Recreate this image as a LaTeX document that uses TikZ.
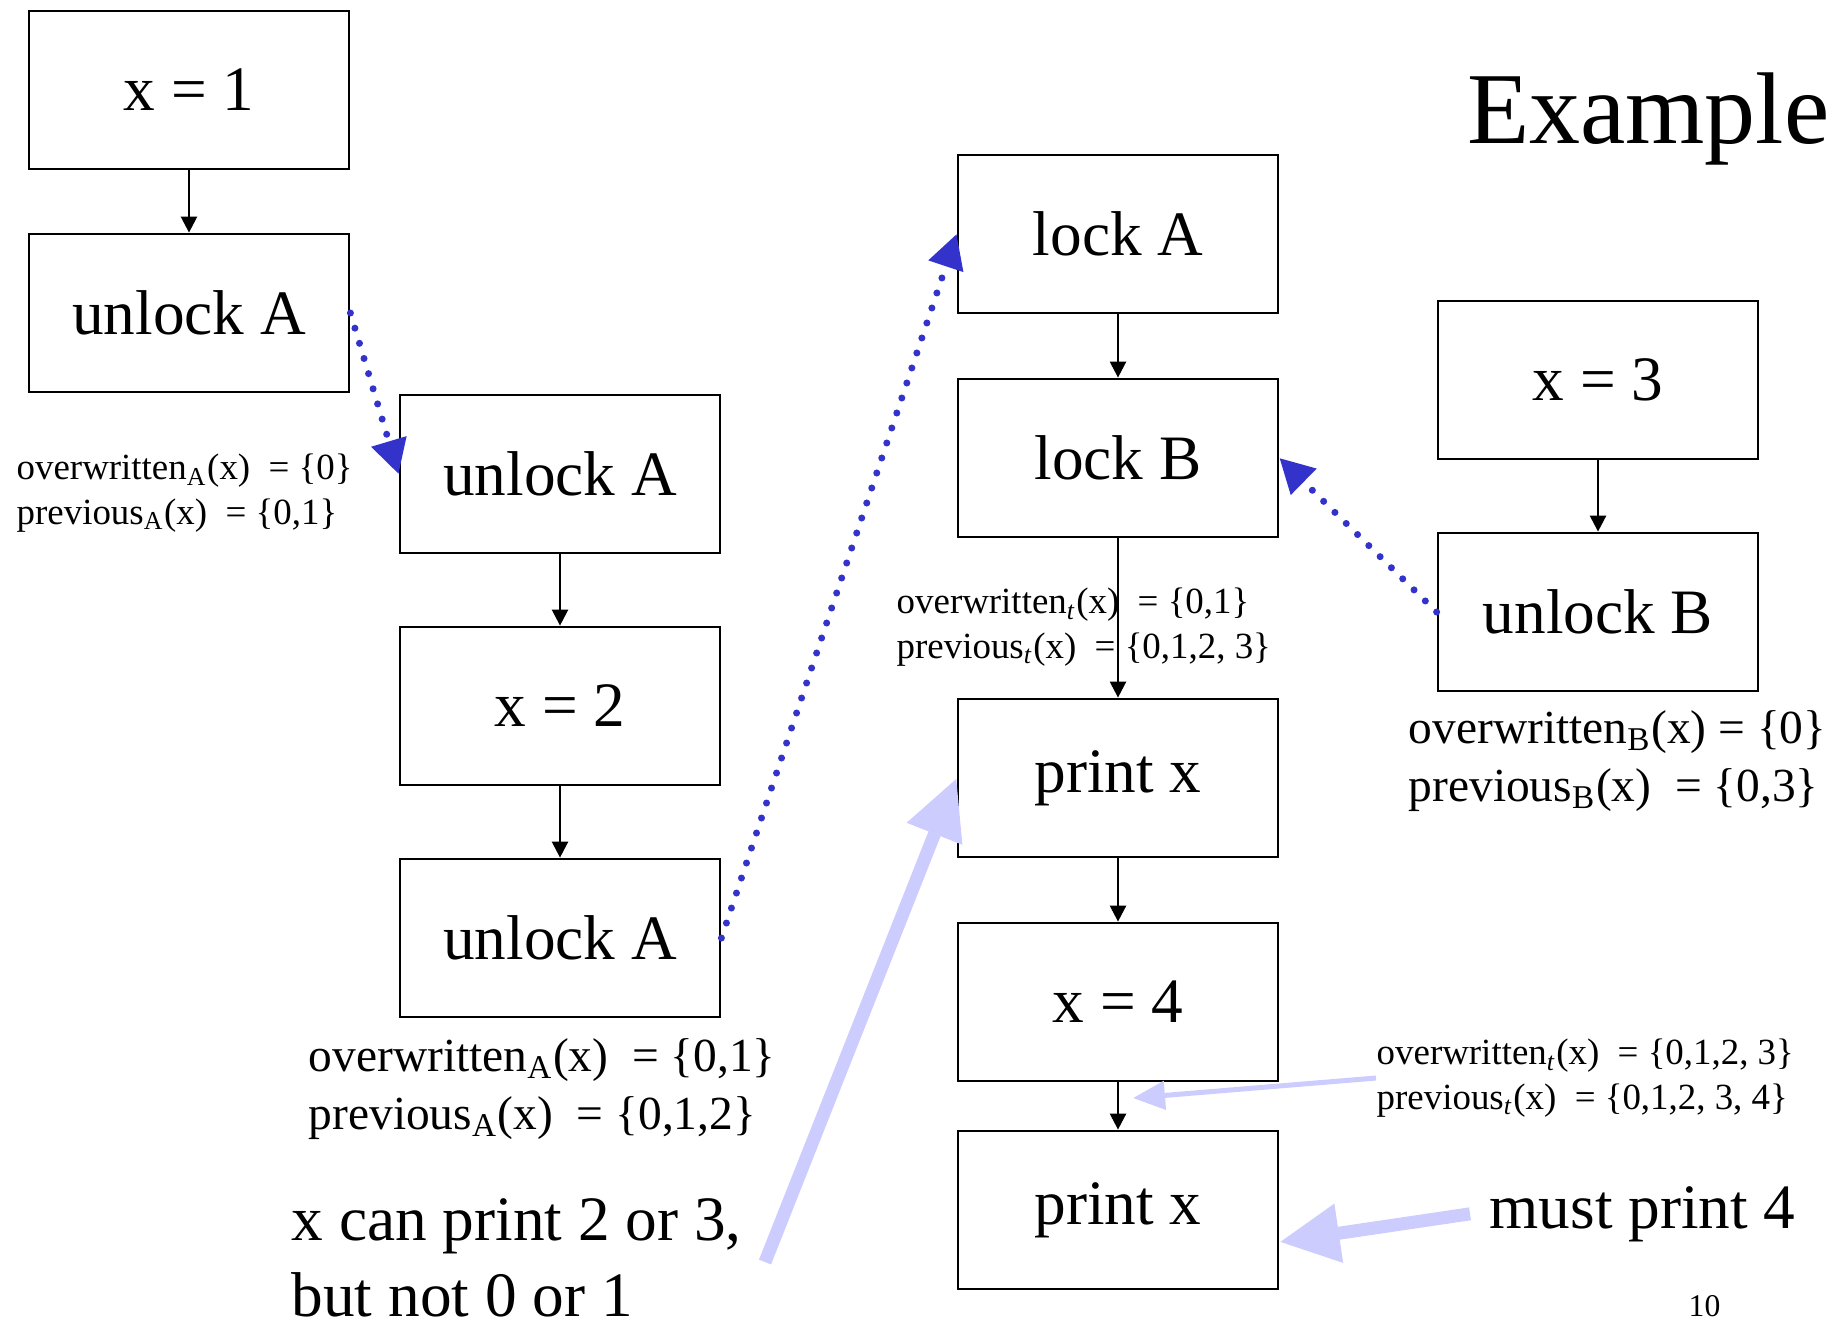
\documentclass[tikz,border=0pt]{standalone}
\usepackage{fontspec}
\setmainfont{Liberation Serif}
\usetikzlibrary{arrows.meta,calc}
\usepackage{xcolor}
\definecolor{lockblue}{RGB}{51,51,204}
\definecolor{hintlilac}{RGB}{204,204,255}

\begin{document}
\begin{tikzpicture}[x=1cm,y=1cm,
  stmt/.style={draw,line width=0.8pt,minimum width=3.2cm,minimum height=1.58cm,inner sep=0pt,font=\fontsize{18}{21.6}\selectfont},
  setsmall/.style={anchor=base west,align=left,inner sep=0pt,font=\fontsize{10.5}{12.6}\selectfont},
  setbig/.style={anchor=base west,align=left,inner sep=0pt,font=\fontsize{13.5}{16.5}\selectfont},
  note/.style={anchor=base west,align=left,inner sep=0pt,font=\fontsize{18}{21.6}\selectfont},
  flow/.style={-{Triangle[length=0.16cm,width=0.16cm]},line width=0.7pt},
  lockdep/.style={-{Triangle[length=0.34cm,width=0.35cm]},lockblue,line width=2pt,dash pattern=on 0pt off 4.5pt,line cap=round},
  hint/.style={-{Triangle[length=0.6cm,width=0.56cm]},hintlilac,line width=0.13cm},
  thinhint/.style={-{Triangle[length=0.32cm,width=0.28cm]},hintlilac,line width=0.05cm}]
\useasboundingbox (0,0) rectangle (18.43,-13.27);
% first thread
\node[stmt] (xone) at (1.89,-0.90) {x = 1};
\node[stmt] (unlockAa) at (1.89,-3.13) {unlock A};
\node[stmt] (unlockAb) at (5.60,-4.74) {unlock A};
\node[stmt] (xtwo) at (5.60,-7.06) {x = 2};
\node[stmt] (unlockAc) at (5.60,-9.38) {unlock A};
% second thread
\node[stmt] (lockA) at (11.18,-2.34) {lock A};
\node[stmt] (lockB) at (11.18,-4.58) {lock B};
\node[stmt] (printa) at (11.18,-7.78) {print x};
\node[stmt] (xfour) at (11.18,-10.02) {x = 4};
\node[stmt] (printb) at (11.18,-12.10) {print x};
% third thread
\node[stmt] (xthree) at (15.98,-3.80) {x = 3};
\node[stmt] (unlockB) at (15.98,-6.12) {unlock B};

\draw[flow] (xone) -- (unlockAa);
\draw[flow] (unlockAb) -- (xtwo);
\draw[flow] (xtwo) -- (unlockAc);
\draw[flow] (lockA) -- (lockB);
\draw[flow] (lockB) -- (printa);
\draw[flow] (printa) -- (xfour);
\draw[flow] (xfour) -- (printb);
\draw[flow] (xthree) -- (unlockB);

% sets (base = last line)
\node[setsmall] (setAa) at (0.16,-5.24) {overwritten\textsubscript{A}(x) \ = \{0\}\\previous\textsubscript{A}(x) \ = \{0,1\}};
\node[setbig] (setAc) at (3.08,-11.29) {overwritten\textsubscript{A}(x) \ = \{0,1\}\\previous\textsubscript{A}(x) \ = \{0,1,2\}};
\node[setsmall] (setmid) at (8.96,-6.58) {overwritten\textsubscript{\textit{t}}(x) \ = \{0,1\}\\previous\textsubscript{\textit{t}}(x) \ = \{0,1,2, 3\}};
\node[setbig] (setB) at (14.08,-8.01) {overwritten\textsubscript{B}(x) = \{0\}\\previous\textsubscript{B}(x) \ = \{0,3\}};
\node[setsmall] (setfour) at (13.76,-11.09) {overwritten\textsubscript{\textit{t}}(x) \ = \{0,1,2, 3\}\\previous\textsubscript{\textit{t}}(x) \ = \{0,1,2, 3, 4\}};

% lock order
\draw[lockdep] (unlockAa.east) -- (unlockAb.west);
\draw[lockdep] (unlockAc.east) -- (lockA.west);
\draw[lockdep] (unlockB.west) -- (lockB.east);

% remarks
\node[note] (canprint) at (2.91,-13.16) {x can print 2 or 3,\\but not 0 or 1};
\node[note,inner xsep=0.19cm] (must) at (14.70,-12.28) {must print 4};
\coordinate (tailx) at (7.65,-12.62);
\coordinate (tipfour) at (11.33,-10.98);
\coordinate (tipprint) at ($(printb.east)+(0,-0.32)$);
\draw[hint] (tailx) -- (printa.west);
\draw[hint] (must.west) -- (tipprint);
\draw[thinhint] (setfour.west) -- (tipfour);

\node[anchor=base east,inner sep=0pt,font=\fontsize{29}{35}\selectfont] (title) at (18.30,-1.43) {Example};
\node[anchor=base west,inner sep=0pt,font=\fontsize{9}{11}\selectfont] (pageno) at (16.88,-13.16) {10};
\end{tikzpicture}
\end{document}
